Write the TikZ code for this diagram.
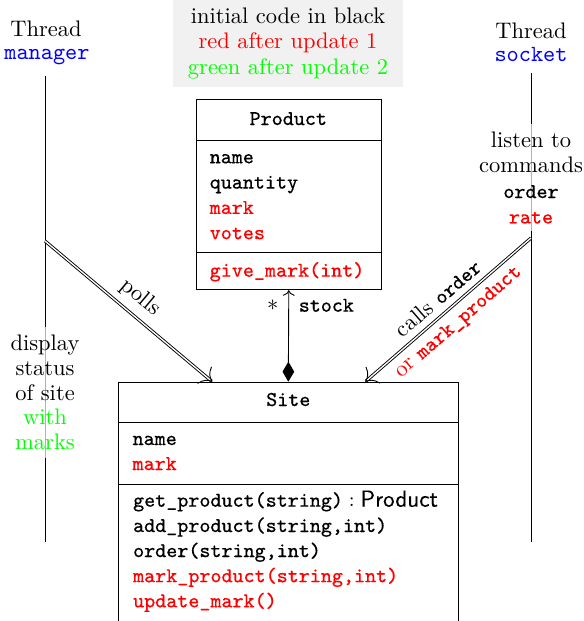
\documentclass[tikz,border=0pt]{standalone}
\usepackage{fontspec}
\usetikzlibrary{arrows.meta}
\definecolor{cred}{RGB}{255,0,0}
\definecolor{cgreen}{RGB}{0,255,0}
\definecolor{cblue}{RGB}{0,0,255}
\definecolor{notebg}{RGB}{241,241,241}
\newdimen\PX \PX=0.44444pt
\newfontfamily\clsmono{Latin Modern Mono}[FakeBold=0.25]
\newfontfamily\clssans{Latin Modern Sans}[FakeBold=0.25]
\newcommand\fsMain{\fontsize{10}{11.25}\selectfont}
\newcommand\fsCls{\fontsize{9.35}{11.25}\selectfont\clsmono}
\newcommand\fsThr{\fontsize{10.3}{12}\selectfont\ttfamily}
\tikzset{
  txt/.style={inner sep=0pt, font=\fsMain},
  clstxt/.style={inner sep=0pt, font=\fsCls, anchor=base west},
  clstitle/.style={inner sep=0pt, font=\fsCls, anchor=base},
  umlbox/.style={draw, fill=white, inner sep=0pt, anchor=north west},
  thread/.style={line width=0.4pt},
  dbl/.style={double, ->},
  veil/.style={fill=white, fill opacity=0.7, text opacity=1, align=center}
}
\begin{document}
\begin{tikzpicture}[x=0.44444pt, y=-0.44444pt]
\useasboundingbox (0,0) rectangle (584,621);

% note
\node[fill=notebg, minimum width=230\PX, minimum height=87\PX, align=center,
      font=\fsMain, inner sep=0pt] (note) at (288,43.5)
  {initial code in black\\\textcolor{cred}{red after update 1}\\\textcolor{cgreen}{green after update 2}};

% thread lines
\coordinate (mtop) at (45,76);
\coordinate (mbot) at (45,541.7);
\coordinate (stop) at (531,73.3);
\coordinate (sbot) at (531,541.7);
\draw[thread] (mtop) -- (mbot);
\draw[thread] (stop) -- (sbot);

% thread labels
\node[txt, anchor=base] (thrL1) at (46,36) {Thread};
\node[txt, anchor=base, font=\fsThr, text=cblue] (thrL2) at (47,59) {manager};
\node[txt, anchor=base] (thrR1) at (531,38.3) {Thread};
\node[txt, anchor=base, font=\fsThr, text=cblue] (thrR2) at (531,61.7) {socket};

% Product class
\node[umlbox, minimum width=184.7\PX, minimum height=190\PX] (product) at (196,99.3) {};
\draw (196,140) -- (380.7,140);
\draw (196,252.7) -- (380.7,252.7);
\node[clstitle] (ptitle) at (288.3,125) {Product};
\node[clstxt] (pa1) at (209.3,163.3) {name};
\node[clstxt] (pa2) at (209.3,188.6) {quantity};
\node[clstxt, text=cred] (pa3) at (209.3,213.9) {mark};
\node[clstxt, text=cred] (pa4) at (209.3,239.2) {votes};
\node[clstxt, text=cred] (po1) at (209.3,276.7) {give\_mark(int)};

% Site class
\node[umlbox, minimum width=340\PX, minimum height=300\PX] (site) at (118.3,381.7) {};
\draw (118.3,422.3) -- (458.3,422.3);
\draw (118.3,484) -- (458.3,484);
\node[clstitle] (stitle) at (288.3,406) {Site};
\node[clstxt] (sa1) at (132.2,445) {name};
\node[clstxt, text=cred] (sa2) at (132.2,470) {mark};
\node[clstxt] (so1) at (132.7,506.7) {get\_product(string)${}:{}$\fontsize{10.3}{12}\selectfont\clssans Product};
\node[clstxt] (so2) at (132.7,532) {add\_product(string,int)};
\node[clstxt] (so3) at (132.7,557.1) {order(string,int)};
\node[clstxt, text=cred] (so4) at (132.7,582.2) {mark\_product(string,int)};
\node[clstxt, text=cred] (so5) at (132.7,607.3) {update\_mark()};

% composition
\coordinate (siteC) at (288.3,381.7);
\draw[{Diamond[length=8.9pt,width=5.2pt]}->] (siteC) -- (product.south);
\node[txt] (mult) at (272.7,305) {$*$};
\node[clstxt] (stock) at (298.3,311.7) {stock};

% polls
\coordinate (mpoll) at (45,241);
\coordinate (siteL) at (212.3,381.7);
\draw[dbl] (mpoll) -- node[midway, above, sloped, font=\fsMain] (pollslbl) {polls} (siteL);

% calls
\coordinate (scall) at (531,238);
\coordinate (siteR) at (365.3,381.7);
\draw[dbl] (scall) -- node[midway, above, sloped, font=\fsMain] (callslbl) {calls {\fsCls order}}
  node[midway, below, sloped, font=\fsMain, text=cred] (orlbl) {or {\fsCls mark\_product}} (siteR);

% thread descriptions
\node[veil, font=\fontsize{10}{11.02}\selectfont] (disp) at (45,392.5)
  {display\\status\\of site\\\textcolor{cgreen}{with}\\\textcolor{cgreen}{marks}};
\node[veil, font=\fontsize{10}{11.33}\selectfont] (listen) at (531,177.5)
  {listen to\\commands\\{\fontsize{9.35}{11.33}\selectfont\clsmono order}\\{\fontsize{9.35}{11.33}\selectfont\clsmono\color{cred}rate}};
\end{tikzpicture}
\end{document}
